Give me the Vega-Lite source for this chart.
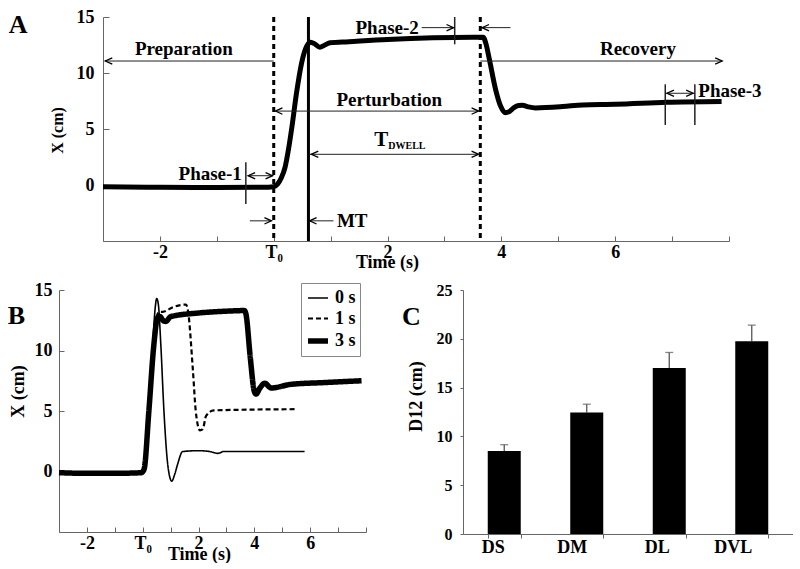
{
  "$schema": "https://vega.github.io/schema/vega-lite/v6.json",
  "padding": {"left": 7, "top": 8, "right": 0, "bottom": 0},
  "background": "white",
  "config": {
    "view": {"stroke": null},
    "axis": {"domainColor": "#666", "tickColor": "#666", "labelFont": "Liberation Serif", "labelFontWeight": "bold", "labelFontSize": 18, "labelColor": "black", "titleFont": "Liberation Serif", "titleFontWeight": "bold", "titleFontSize": 18, "titleColor": "black", "grid": false, "domainWidth": 1, "tickWidth": 1, "labelOverlap": false},
    "text": {"font": "Liberation Serif", "fontWeight": "bold", "fontSize": 19, "color": "black"}
  },
  "spacing": 10,
  "resolve": {"legend": {"strokeWidth": "independent", "strokeDash": "independent"}},
  "vconcat": [
    {
      "bounds": "flush",
      "spacing": 0,
      "hconcat": [
        {"width": 44, "height": 224, "data": {"values": []}, "mark": "point", "encoding": {}},
        {
          "width": 626,
          "height": 224,
          "layer": [
            {
              "data": {"values": [
                {"t": -3, "x": -0.15}, {"t": -2, "x": -0.2}, {"t": -1, "x": -0.22}, {"t": -0.2, "x": -0.2}, {"t": 0, "x": -0.15},
                {"t": 0.07, "x": 0.1}, {"t": 0.13, "x": 0.6}, {"t": 0.2, "x": 1.6}, {"t": 0.26, "x": 3.2}, {"t": 0.32, "x": 5.2},
                {"t": 0.4, "x": 8.2}, {"t": 0.49, "x": 10.9}, {"t": 0.58, "x": 12.4}, {"t": 0.65, "x": 12.75}, {"t": 0.72, "x": 12.6},
                {"t": 0.81, "x": 12.3}, {"t": 0.9, "x": 12.5}, {"t": 0.99, "x": 12.7}, {"t": 1.32, "x": 12.8}, {"t": 2.0, "x": 13.0},
                {"t": 2.8, "x": 13.15}, {"t": 3.5, "x": 13.2}, {"t": 3.68, "x": 13.2}, {"t": 3.73, "x": 12.6}, {"t": 3.79, "x": 11.2},
                {"t": 3.9, "x": 8.5}, {"t": 3.99, "x": 7.0}, {"t": 4.07, "x": 6.45}, {"t": 4.14, "x": 6.55}, {"t": 4.22, "x": 6.9},
                {"t": 4.3, "x": 7.1}, {"t": 4.37, "x": 7.12}, {"t": 4.47, "x": 6.98}, {"t": 4.6, "x": 6.88}, {"t": 5.08, "x": 7.0},
                {"t": 5.43, "x": 7.15}, {"t": 6.0, "x": 7.2}, {"t": 6.9, "x": 7.38}, {"t": 7.87, "x": 7.45}
              ]},
              "mark": {"type": "line", "color": "black", "strokeWidth": 5, "interpolate": "monotone"},
              "encoding": {
                "x": {"field": "t", "type": "quantitative", "scale": {"domain": [-3, 8], "nice": false, "zero": false},
                  "axis": {"values": [-3, -2, -1, 0, 1, 2, 3, 4, 5, 6, 7, 8], "tickSize": -5, "labelPadding": 7, "labelOverlap": false,
                    "labelExpr": "datum.value == 0 ? 'T\u2080' : ((datum.value % 2 == 0 && datum.value > -3 && datum.value < 8) ? '' + datum.value : '')",
                    "title": "Time (s)", "titleX": 284, "titleY": 21, "titleBaseline": "middle", "titleAlign": "center"}},
                "y": {"field": "x", "type": "quantitative", "scale": {"domain": [-5, 15], "nice": false},
                  "axis": {"values": [0, 5, 10, 15], "tickSize": -6, "labelPadding": 15, "labelOverlap": false, "title": "X (cm)", "titleFontSize": 16, "titleX": -46, "titleY": 113, "titleBaseline": "middle", "titleAlign": "center"}}
              }
            },
            {
              "data": {"values": [{"t": 0}, {"t": 3.63}]},
              "mark": {"type": "rule", "color": "black", "strokeWidth": 3, "strokeDash": [5, 4]},
              "encoding": {"x": {"field": "t", "type": "quantitative"}}
            },
            {
              "data": {"values": [{"t": 0.61}]},
              "mark": {"type": "rule", "color": "black", "strokeWidth": 3},
              "encoding": {"x": {"field": "t", "type": "quantitative"}}
            },
            {
              "data": {"values": [
                {"a": -2.96, "b": 0, "y": 11.07}, {"a": -0.45, "b": -0.02, "y": 0.83}, {"a": -0.42, "b": -0.04, "y": -3.2},
                {"a": 0.63, "b": 1.05, "y": -3.2}, {"a": 0.02, "b": 3.61, "y": 6.6}, {"a": 0.64, "b": 3.61, "y": 2.74},
                {"a": 2.6, "b": 3.16, "y": 14.05}, {"a": 3.65, "b": 4.16, "y": 14.05}, {"a": 3.63, "b": 7.88, "y": 11.07},
                {"a": 6.9, "b": 7.38, "y": 8.19}
              ]},
              "mark": {"type": "rule", "color": "#222", "strokeWidth": 1},
              "encoding": {"x": {"field": "a", "type": "quantitative"}, "x2": {"field": "b"}, "y": {"field": "y", "type": "quantitative"}}
            },
            {
              "data": {"values": [
                {"t": -0.49, "lo": -1.7, "hi": 2.03}, {"t": 3.18, "lo": 12.56, "hi": 15.0},
                {"t": 6.88, "lo": 5.36, "hi": 8.99}, {"t": 7.4, "lo": 5.36, "hi": 8.99}
              ]},
              "mark": {"type": "rule", "color": "#222", "strokeWidth": 1.5},
              "encoding": {"x": {"field": "t", "type": "quantitative"}, "y": {"field": "lo", "type": "quantitative"}, "y2": {"field": "hi"}}
            },
            {
              "data": {"values": [
                {"t": -2.96, "y": 11.07, "dir": "L"}, {"t": -0.45, "y": 0.83, "dir": "L"}, {"t": -0.02, "y": 0.83, "dir": "R"},
                {"t": -0.04, "y": -3.2, "dir": "R"}, {"t": 0.63, "y": -3.2, "dir": "L"}, {"t": 0.03, "y": 6.6, "dir": "L"},
                {"t": 3.6, "y": 6.6, "dir": "R"}, {"t": 0.66, "y": 2.74, "dir": "L"}, {"t": 3.6, "y": 2.74, "dir": "R"},
                {"t": 3.16, "y": 14.05, "dir": "R"}, {"t": 3.66, "y": 14.05, "dir": "L"}, {"t": 7.88, "y": 11.07, "dir": "R"},
                {"t": 6.91, "y": 8.19, "dir": "L"}, {"t": 7.37, "y": 8.19, "dir": "R"}
              ]},
              "mark": {"type": "point", "filled": false, "size": 196, "stroke": "black", "strokeWidth": 1.3, "opacity": 1},
              "encoding": {
                "x": {"field": "t", "type": "quantitative"},
                "y": {"field": "y", "type": "quantitative"},
                "shape": {"field": "dir", "type": "nominal", "scale": {"domain": ["L", "R"], "range": ["M1,-0.45L0,0L1,0.45", "M-1,-0.45L0,0L-1,0.45"]}, "legend": null}
              }
            },
            {
              "data": {"values": [
                {"t": -1.58, "y": 12.1, "s": "Preparation"}, {"t": 2.03, "y": 7.63, "s": "Perturbation"}, {"t": 6.4, "y": 12.14, "s": "Recovery"}
              ]},
              "mark": {"type": "text", "align": "center", "baseline": "middle"},
              "encoding": {"x": {"field": "t", "type": "quantitative"}, "y": {"field": "y", "type": "quantitative"}, "text": {"field": "s"}}
            },
            {
              "data": {"values": [
                {"t": -0.56, "y": 0.94, "s": "Phase-1"}, {"t": 2.55, "y": 14.06, "s": "Phase-2"}
              ]},
              "mark": {"type": "text", "align": "right", "baseline": "middle"},
              "encoding": {"x": {"field": "t", "type": "quantitative"}, "y": {"field": "y", "type": "quantitative"}, "text": {"field": "s"}}
            },
            {
              "data": {"values": [
                {"t": 1.11, "y": -3.2, "s": "MT"}, {"t": 7.46, "y": 8.35, "s": "Phase-3"}
              ]},
              "mark": {"type": "text", "align": "left", "baseline": "middle"},
              "encoding": {"x": {"field": "t", "type": "quantitative"}, "y": {"field": "y", "type": "quantitative"}, "text": {"field": "s"}}
            },
            {
              "data": {"values": [{"t": 1.89, "y": 4.0, "s": "T"}]},
              "mark": {"type": "text", "align": "center", "baseline": "middle", "fontSize": 21},
              "encoding": {"x": {"field": "t", "type": "quantitative"}, "y": {"field": "y", "type": "quantitative"}, "text": {"field": "s"}}
            },
            {
              "data": {"values": [{"t": 2.34, "y": 3.45, "s": "DWELL"}]},
              "mark": {"type": "text", "align": "center", "baseline": "middle", "fontSize": 10},
              "encoding": {"x": {"field": "t", "type": "quantitative"}, "y": {"field": "y", "type": "quantitative"}, "text": {"field": "s"}}
            },
            {
              "data": {"values": [{"t": -4.49, "y": 14.3, "s": "A"}]},
              "mark": {"type": "text", "align": "center", "baseline": "middle", "fontSize": 26},
              "encoding": {"x": {"field": "t", "type": "quantitative"}, "y": {"field": "y", "type": "quantitative"}, "text": {"field": "s"}}
            }
          ]
        }
      ]
    },
    {
      "spacing": 29,
      "resolve": {"legend": {"strokeWidth": "independent", "strokeDash": "independent"}},
      "hconcat": [
        {
          "width": 307,
          "height": 242,
          "resolve": {"axis": {"x": "independent"}},
          "layer": [
            {
              "data": {"values": [
                {"d": "0 s", "t": -3, "x": -0.1}, {"d": "0 s", "t": -1, "x": -0.12}, {"d": "0 s", "t": 0, "x": -0.1}, {"d": "0 s", "t": 0.1, "x": 0.8},
                {"d": "0 s", "t": 0.25, "x": 6}, {"d": "0 s", "t": 0.36, "x": 10.5}, {"d": "0 s", "t": 0.45, "x": 13.6}, {"d": "0 s", "t": 0.5, "x": 14.3},
                {"d": "0 s", "t": 0.56, "x": 13.8}, {"d": "0 s", "t": 0.65, "x": 10.4}, {"d": "0 s", "t": 0.76, "x": 5}, {"d": "0 s", "t": 0.9, "x": 0.5},
                {"d": "0 s", "t": 1.04, "x": -0.8}, {"d": "0 s", "t": 1.15, "x": -0.2}, {"d": "0 s", "t": 1.25, "x": 0.6}, {"d": "0 s", "t": 1.43, "x": 1.65},
                {"d": "0 s", "t": 2.0, "x": 1.72}, {"d": "0 s", "t": 2.4, "x": 1.65}, {"d": "0 s", "t": 2.7, "x": 1.5}, {"d": "0 s", "t": 2.9, "x": 1.65},
                {"d": "0 s", "t": 4.0, "x": 1.65}, {"d": "0 s", "t": 5.8, "x": 1.65},
                {"d": "1 s", "t": -3, "x": -0.1}, {"d": "1 s", "t": 0, "x": -0.1}, {"d": "1 s", "t": 0.1, "x": 0.8}, {"d": "1 s", "t": 0.25, "x": 6},
                {"d": "1 s", "t": 0.38, "x": 10.5}, {"d": "1 s", "t": 0.5, "x": 12.8}, {"d": "1 s", "t": 0.6, "x": 13.2}, {"d": "1 s", "t": 0.72, "x": 13.2},
                {"d": "1 s", "t": 1.1, "x": 13.6}, {"d": "1 s", "t": 1.55, "x": 13.8}, {"d": "1 s", "t": 1.62, "x": 13.3}, {"d": "1 s", "t": 1.8, "x": 8.3},
                {"d": "1 s", "t": 1.9, "x": 5}, {"d": "1 s", "t": 2.05, "x": 3.4}, {"d": "1 s", "t": 2.15, "x": 3.5}, {"d": "1 s", "t": 2.27, "x": 4.6},
                {"d": "1 s", "t": 2.55, "x": 5.05}, {"d": "1 s", "t": 3.5, "x": 5.1}, {"d": "1 s", "t": 5.5, "x": 5.15},
                {"d": "3 s", "t": -3, "x": -0.1}, {"d": "3 s", "t": -2, "x": -0.15}, {"d": "3 s", "t": -1, "x": -0.15}, {"d": "3 s", "t": -0.05, "x": -0.1},
                {"d": "3 s", "t": 0.05, "x": 0.2}, {"d": "3 s", "t": 0.22, "x": 5}, {"d": "3 s", "t": 0.4, "x": 10.5}, {"d": "3 s", "t": 0.53, "x": 12.7},
                {"d": "3 s", "t": 0.62, "x": 12.8}, {"d": "3 s", "t": 0.72, "x": 12.5}, {"d": "3 s", "t": 0.83, "x": 12.4}, {"d": "3 s", "t": 1.0, "x": 12.8},
                {"d": "3 s", "t": 2.0, "x": 13.1}, {"d": "3 s", "t": 3.0, "x": 13.25}, {"d": "3 s", "t": 3.64, "x": 13.3}, {"d": "3 s", "t": 3.7, "x": 13.0},
                {"d": "3 s", "t": 3.85, "x": 9.5}, {"d": "3 s", "t": 4.0, "x": 6.6}, {"d": "3 s", "t": 4.06, "x": 6.4}, {"d": "3 s", "t": 4.2, "x": 6.9},
                {"d": "3 s", "t": 4.37, "x": 7.3}, {"d": "3 s", "t": 4.6, "x": 6.9}, {"d": "3 s", "t": 5.3, "x": 7.2}, {"d": "3 s", "t": 6.5, "x": 7.35},
                {"d": "3 s", "t": 7.84, "x": 7.5}
              ]},
              "mark": {"type": "line", "color": "black", "interpolate": "monotone"},
              "encoding": {
                "x": {"field": "t", "type": "quantitative", "scale": {"domain": [-3, 8], "nice": false, "zero": false},
                  "axis": {"orient": "bottom", "values": [-3, -2, -1, 0, 1, 2, 3, 4, 5, 6, 7, 8], "tickSize": -5, "labels": false, "title": null}},
                "y": {"field": "x", "type": "quantitative", "scale": {"domain": [-5, 15], "nice": false},
                  "axis": {"values": [0, 5, 10, 15], "tickSize": -5, "labelPadding": 12, "labelOverlap": false, "title": "X (cm)", "titleX": -41, "titleY": 101, "titleBaseline": "middle", "titleAlign": "center"}},
                "strokeWidth": {"field": "d", "type": "nominal", "scale": {"type": "ordinal", "domain": ["0 s", "1 s", "3 s"], "range": [1.6, 2.2, 5.5]},
                  "legend": {"title": null, "orient": "none", "legendX": 242, "legendY": -7, "symbolType": "stroke", "symbolSize": 400, "symbolStrokeColor": "black", "labelFont": "Liberation Serif", "labelFontWeight": "bold", "labelFontSize": 18, "labelColor": "black", "strokeColor": "#888", "fillColor": "white", "padding": 4, "rowPadding": 0, "labelOffset": 4}},
                "strokeDash": {"field": "d", "type": "nominal", "scale": {"domain": ["0 s", "1 s", "3 s"], "range": [[1, 0], [5, 3], [1, 0]]},
                  "legend": {"title": null, "orient": "none", "legendX": 242, "legendY": -7, "symbolType": "stroke", "symbolSize": 400, "symbolStrokeColor": "black", "labelFont": "Liberation Serif", "labelFontWeight": "bold", "labelFontSize": 18, "labelColor": "black", "strokeColor": "#888", "fillColor": "white", "padding": 4, "rowPadding": 0, "labelOffset": 4}}
              }
            },
            {
              "data": {"values": [{"t": -4.53, "y": 12.84, "s": "B"}]},
              "mark": {"type": "text", "align": "center", "baseline": "middle", "fontSize": 26},
              "encoding": {
                "x": {"field": "t", "type": "quantitative",
                  "axis": {"orient": "bottom", "values": [-2, 0, 2, 4, 6], "ticks": false, "tickSize": 0, "domain": false, "labelPadding": 2, "labelOverlap": false, "labelFlush": false,
                    "labelExpr": "datum.value == 0 ? 'T\u2080' : '' + datum.value",
                    "title": "Time (s)", "titleX": 140, "titleY": 22, "titleBaseline": "middle", "titleAlign": "center"}},
                "y": {"field": "y", "type": "quantitative"},
                "text": {"field": "s"}
              }
            }
          ]
        },
        {
          "width": 330,
          "height": 244,
          "title": {"text": "C", "anchor": "start", "frame": "group", "font": "Liberation Serif", "fontWeight": "bold", "fontSize": 26, "color": "black", "baseline": "middle", "offset": 0, "dx": -61, "dy": 61},
          "data": {"values": [
            {"c": "DS", "v": 8.5, "e": 9.15}, {"c": "DM", "v": 12.45, "e": 13.3}, {"c": "DL", "v": 17.0, "e": 18.6}, {"c": "DVL", "v": 19.75, "e": 21.4}
          ]},
          "layer": [
            {
              "mark": {"type": "rule", "color": "#555", "strokeWidth": 1.3},
              "encoding": {"x": {"field": "c", "type": "nominal", "sort": null}, "y": {"field": "v", "type": "quantitative"}, "y2": {"field": "e"}}
            },
            {
              "mark": {"type": "tick", "orient": "horizontal", "color": "#555", "size": 8, "thickness": 1.3},
              "encoding": {"x": {"field": "c", "type": "nominal", "sort": null}, "y": {"field": "e", "type": "quantitative"}}
            },
            {
              "mark": {"type": "bar", "color": "black"},
              "encoding": {
                "x": {"field": "c", "type": "nominal", "sort": null, "scale": {"paddingInner": 0.6, "paddingOuter": 0.3},
                  "axis": {"title": null, "labelAngle": 0, "tickBand": "extent", "tickSize": 4, "labelPadding": 9}},
                "y": {"field": "v", "type": "quantitative", "scale": {"domain": [0, 25], "nice": false},
                  "axis": {"values": [0, 5, 10, 15, 20, 25], "tickSize": 3, "labelPadding": 8, "labelFontSize": 16, "title": "D12 (cm)", "titleX": -47, "titleY": 106, "titleBaseline": "middle", "titleAlign": "center"}}
              }
            }
          ]
        }
      ]
    }
  ]
}
